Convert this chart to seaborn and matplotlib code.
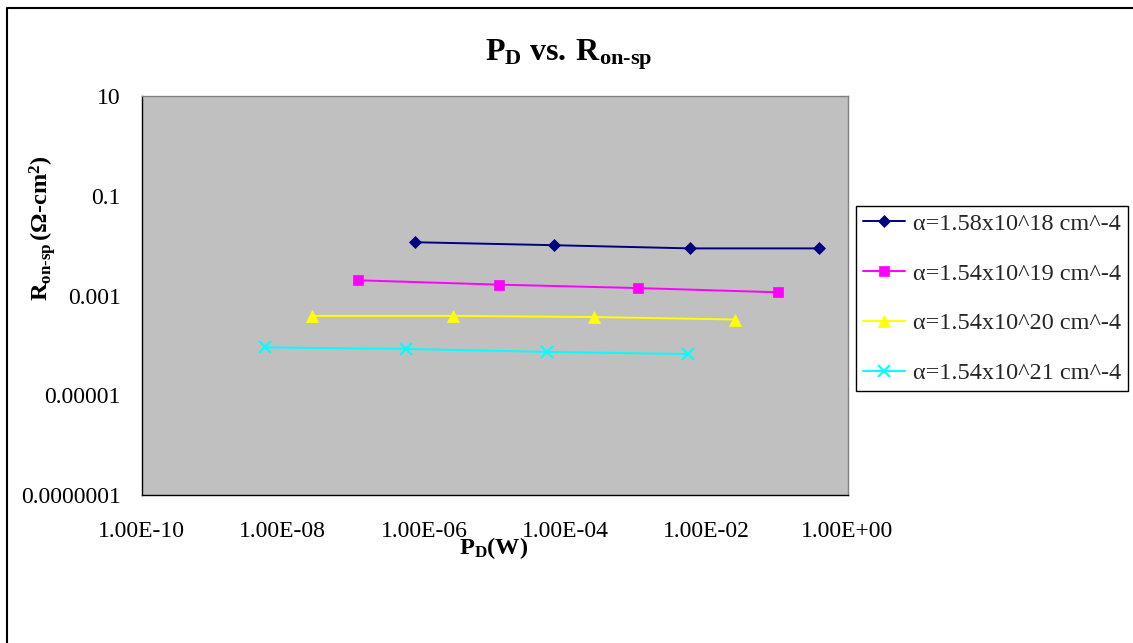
import matplotlib
matplotlib.use("Agg")
import matplotlib.pyplot as plt
import seaborn as sns
import pandas as pd
from matplotlib.lines import Line2D

# Dissipated power P_D (W) and specific on-resistance R_on-sp (ohm-cm^2)
series_labels = [
    "α=1.58x10^18 cm^-4",
    "α=1.54x10^19 cm^-4",
    "α=1.54x10^20 cm^-4",
    "α=1.54x10^21 cm^-4",
]
pd_18 = [7.4e-7, 6.9e-5, 5.9e-3, 0.39]
ron_18 = [0.0117, 0.0102, 0.0088, 0.0088]
pd_19 = [1.15e-7, 1.16e-5, 1.08e-3, 0.102]
ron_19 = [0.00202, 0.00165, 0.00141, 0.00116]
pd_20 = [2.6e-8, 2.6e-6, 2.55e-4, 0.0254]
ron_20 = [3.9e-4, 3.9e-4, 3.7e-4, 3.3e-4]
pd_21 = [5.7e-9, 5.6e-7, 5.5e-5, 5.5e-3]
ron_21 = [9.1e-5, 8.5e-5, 7.4e-5, 6.7e-5]

x_ticks = [1e-10, 1e-8, 1e-6, 1e-4, 1e-2, 1e0]
x_tick_labels = ["1.00E-10", "1.00E-08", "1.00E-06", "1.00E-04", "1.00E-02", "1.00E+00"]
y_ticks = [1e-7, 1e-5, 1e-3, 1e-1, 10]
y_tick_labels = ["0.0000001", "0.00001", "0.001", "0.1", "10"]

colors = ["#000080", "#FF00FF", "#FFFF00", "#00FFFF"]
markers = ["D", "s", "^", "x"]
marker_sizes = [6, 7, 8, 8]

frames = []
for lab, xs, ys in zip(series_labels, [pd_18, pd_19, pd_20, pd_21],
                       [ron_18, ron_19, ron_20, ron_21]):
    frames.append(pd.DataFrame({"P_D": xs, "R_on_sp": ys, "series": lab}))
data = pd.concat(frames, ignore_index=True)

sns.set_theme(style="white")
plt.rcParams["font.family"] = ["Liberation Serif", "DejaVu Serif"]
plt.rcParams["mathtext.fontset"] = "custom"
plt.rcParams["mathtext.rm"] = "Liberation Serif"
plt.rcParams["mathtext.bf"] = "Liberation Serif:bold"
plt.rcParams["mathtext.it"] = "Liberation Serif:italic"

W, H = 1133, 643
fig = plt.figure(figsize=(W / 100, H / 100), dpi=100)
fig.patch.set_facecolor("white")

ax = fig.add_axes([141.5 / W, 1 - 495 / H, (847.5 - 141.5) / W, (495 - 96) / H])
ax.set_facecolor("#C0C0C0")

for lab, c, m, ms in zip(series_labels, colors, markers, marker_sizes):
    sub = data[data["series"] == lab]
    sns.lineplot(data=sub, x="P_D", y="R_on_sp", ax=ax, color=c, marker=m,
                 markersize=ms, markeredgecolor=c, markeredgewidth=1.5 if m == "x" else 0.5,
                 linewidth=1.4, label=lab, sort=False, errorbar=None)

ax.set_xscale("log")
ax.set_yscale("log")
ax.set_xlim(1e-10, 1)
ax.set_ylim(1e-7, 10)
ax.set_xticks(x_ticks)
ax.set_xticklabels(x_tick_labels)
ax.set_yticks(y_ticks)
ax.set_yticklabels(y_tick_labels)
ax.minorticks_off()
ax.tick_params(axis="both", which="major", direction="out", length=6, width=1,
               color="black", labelsize=17, labelcolor="black")
ax.tick_params(axis="x", pad=13)
ax.tick_params(axis="y", pad=9)
ax.set_xlabel("")
ax.set_ylabel("")
ax.grid(False)

for side in ["left", "bottom"]:
    ax.spines[side].set_color("black")
    ax.spines[side].set_linewidth(1.0)
for side in ["top", "right"]:
    ax.spines[side].set_color("#808080")
    ax.spines[side].set_linewidth(1.0)

handles, labels = ax.get_legend_handles_labels()
ax.get_legend().remove()
leg = fig.legend(handles, labels, loc="center",
                 bbox_to_anchor=(992 / W, 1 - 298.5 / H),
                 fontsize=17.5, frameon=True, fancybox=False, shadow=False,
                 framealpha=1, edgecolor="black", facecolor="white",
                 labelspacing=1.14, borderpad=0.3, handlelength=1.7,
                 handletextpad=0.33, borderaxespad=0)
leg.get_frame().set_linewidth(1.0)

fig.text(569 / W, 1 - 61 / H,
         r"$\mathbf{P}_{\mathbf{D}}\ \mathbf{vs.}\:\mathbf{R}_{\mathbf{on‐sp}}$",
         ha="center", va="baseline", fontsize=23, color="black")
fig.text(494 / W, 1 - 548 / H, r"$\mathbf{P}_{\mathbf{D}}\mathbf{(W)}$",
         ha="center", va="center", fontsize=17.5, color="black")
fig.text(43 / W, 1 - 228 / H,
         r"$\mathbf{R}_{\mathbf{on‐sp}}\mathbf{\,(Ω‐cm}^{\mathbf{2}}\mathbf{)}$",
         ha="center", va="center", rotation=90, fontsize=17.5, color="black")

# chart-area border
fig.add_artist(Line2D([7 / W, 7 / W, 1.0], [0.0, 1 - 8 / H, 1 - 8 / H],
                      transform=fig.transFigure, color="black", linewidth=1.5))

fig.savefig("out.png", dpi=100, facecolor="white")
